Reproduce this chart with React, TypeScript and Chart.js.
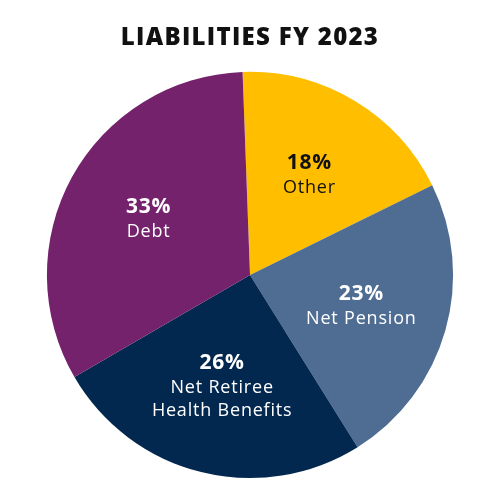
import React, { useEffect, useRef } from 'react';
import { Chart, registerables, Plugin } from 'chart.js';

Chart.register(...registerables);

const categories = ['Other', 'Net Pension', 'Net Retiree\nHealth Benefits', 'Debt'];
const shares = [18.3, 23.4, 25.5, 32.8];
const percentLabels = ['18%', '23%', '26%', '33%'];
const sliceColors = ['#FFBF00', '#4F6D93', '#03284F', '#74226C'];
const textColors = ['#111111', '#FFFFFF', '#FFFFFF', '#FFFFFF'];

const FONT = '"Open Sans", Lato, sans-serif';

// wider tracking for the title (the original font is wider than Open Sans)
const titleSpacing: Plugin<'pie'> = {
  id: 'titleSpacing',
  beforeDraw(chart) {
    (chart.ctx as any).letterSpacing = '1.3px';
  },
  afterDraw(chart) {
    (chart.ctx as any).letterSpacing = '0px';
  },
};

// draws the percent + name inside each slice
const sliceLabels: Plugin<'pie'> = {
  id: 'sliceLabels',
  afterDatasetsDraw(chart) {
    const { ctx } = chart;
    const meta = chart.getDatasetMeta(0);
    ctx.save();
    (ctx as any).letterSpacing = '0.8px';
    ctx.textAlign = 'center';
    ctx.textBaseline = 'middle';
    meta.data.forEach((el: any, i) => {
      const { x, y, startAngle, endAngle, outerRadius } = el.getProps(
        ['x', 'y', 'startAngle', 'endAngle', 'outerRadius'],
        true
      );
      const mid = (startAngle + endAngle) / 2;
      const r = outerRadius * 0.57;
      const cx = x + Math.cos(mid) * r;
      const cy = y + Math.sin(mid) * r;
      const lines = categories[i].split('\n');
      const lineH = 23;
      const gap = 25;
      const total = gap + (lines.length - 1) * lineH;
      let ty = cy - total / 2;
      ctx.fillStyle = textColors[i];
      ctx.font = `bold 21px ${FONT}`;
      ctx.fillText(percentLabels[i], cx, ty);
      ty += gap;
      ctx.font = `18px ${FONT}`;
      lines.forEach((line) => {
        ctx.fillText(line, cx, ty);
        ty += lineH;
      });
    });
    ctx.restore();
  },
};

export default function App() {
  const canvasRef = useRef<HTMLCanvasElement | null>(null);

  useEffect(() => {
    document.body.style.margin = '0';
    if (!canvasRef.current) return;
    const chart = new Chart(canvasRef.current, {
      type: 'pie',
      data: {
        labels: categories,
        datasets: [
          {
            data: shares,
            backgroundColor: sliceColors,
            borderWidth: 0,
          },
        ],
      },
      options: {
        responsive: false,
        animation: false,
        rotation: -2.1,
        layout: { padding: { top: 0, bottom: 22, left: 0, right: 0 } },
        plugins: {
          legend: { display: false },
          tooltip: { enabled: false },
          title: {
            display: true,
            text: 'LIABILITIES FY 2023',
            color: '#111111',
            font: { family: FONT, size: 24, weight: 800 },
            padding: { top: 24, bottom: 19 },
          },
        },
      },
      plugins: [titleSpacing, sliceLabels],
    });
    return () => chart.destroy();
  }, []);

  return (
    <div style={{ width: 500, height: 500, background: '#fff' }}>
      <canvas ref={canvasRef} width={500} height={500} />
    </div>
  );
}
